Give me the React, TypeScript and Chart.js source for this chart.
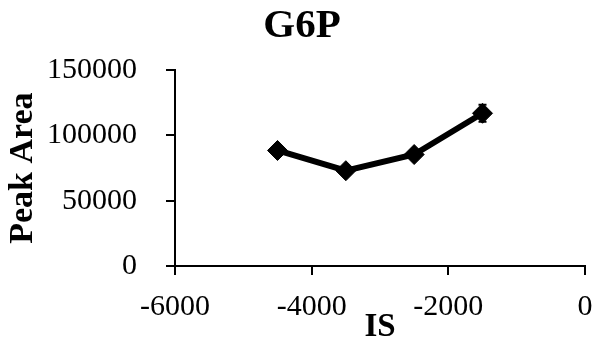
import React, { useEffect, useRef } from "react";
import { Chart, registerables } from "chart.js";

Chart.register(...registerables);

const xValues = [-4500, -3500, -2500, -1500];
const peakArea = [88500, 73000, 85400, 117000];
const errors = [2000, 2000, 2500, 6500];
const xTicks = [-6000, -4000, -2000, 0];
const yTicks = [0, 50000, 100000, 150000];

const errorBarPlugin = {
  id: "errorBars",
  afterDatasetsDraw(chart: any) {
    const { ctx, scales } = chart;
    const xs = scales.x;
    const ys = scales.y;
    ctx.save();
    ctx.strokeStyle = "#000";
    ctx.lineWidth = 2;
    xValues.forEach((xv, i) => {
      const px = xs.getPixelForValue(xv);
      const top = ys.getPixelForValue(peakArea[i] + errors[i]);
      const bot = ys.getPixelForValue(peakArea[i] - errors[i]);
      ctx.beginPath();
      ctx.moveTo(px, top);
      ctx.lineTo(px, bot);
      ctx.moveTo(px - 4, top);
      ctx.lineTo(px + 4, top);
      ctx.moveTo(px - 4, bot);
      ctx.lineTo(px + 4, bot);
      ctx.stroke();
    });
    ctx.restore();
  },
};

export default function App() {
  const ref = useRef<HTMLCanvasElement | null>(null);
  useEffect(() => {
    if (!ref.current) return;
    const serif = "'Liberation Serif', 'Times New Roman', serif";
    const chart = new Chart(ref.current, {
      type: "line",
      data: {
        datasets: [
          {
            data: xValues.map((x, i) => ({ x, y: peakArea[i] })),
            borderColor: "#000",
            backgroundColor: "#000",
            borderWidth: 6,
            pointStyle: "rectRot",
            pointRadius: 10,
            pointBorderWidth: 1,
            pointBackgroundColor: "#000",
            pointBorderColor: "#000",
            tension: 0,
          },
        ],
      },
      options: {
        animation: false,
        responsive: false,
        maintainAspectRatio: false,
        layout: { padding: { left: 8, right: 0, top: 0, bottom: 0 } },
        plugins: {
          legend: { display: false },
          tooltip: { enabled: false },
          title: {
            display: true,
            text: "G6P",
            color: "#000",
            font: { family: serif, size: 41, weight: "bold" },
            padding: { top: 2, bottom: 19 },
          },
        },
        scales: {
          x: {
            type: "linear",
            min: -6000,
            max: 0,
            afterBuildTicks: (scale: any) => {
              scale.ticks = xTicks.map((v) => ({ value: v }));
            },
            afterFit: (scale: any) => {
              scale.height = 79;
              scale.paddingLeft = 0;
              scale.paddingRight = 11;
            },
            ticks: {
              color: "#000",
              font: { family: serif, size: 30 },
              padding: 14,
              maxRotation: 0,
              callback: (v: any) => String(v),
            },
            grid: {
              drawOnChartArea: false,
              drawTicks: true,
              tickLength: 9,
              color: "#000",
              lineWidth: 2,
            },
            border: { color: "#000", width: 2 },
            title: {
              display: true,
              text: "IS",
              color: "#000",
              font: { family: serif, size: 33, weight: "bold" },
              padding: { top: 0, bottom: -2 },
            },
          },
          y: {
            type: "linear",
            min: 0,
            max: 150000,
            afterBuildTicks: (scale: any) => {
              scale.ticks = yTicks.map((v) => ({ value: v }));
            },
            afterFit: (scale: any) => {
              scale.width = 167;
            },
            ticks: {
              color: "#000",
              font: { family: serif, size: 30 },
              padding: 29,
              callback: (v: any) => String(v),
            },
            grid: {
              drawOnChartArea: false,
              drawTicks: true,
              tickLength: 9,
              color: "#000",
              lineWidth: 2,
            },
            border: { color: "#000", width: 2 },
            title: {
              display: true,
              text: "Peak Area",
              color: "#000",
              font: { family: serif, size: 34, weight: "bold" },
              padding: { top: -5, bottom: 0 },
            },
          },
        },
      },
      plugins: [errorBarPlugin],
    } as any);
    return () => chart.destroy();
  }, []);
  return (
    <div style={{ position: "fixed", left: 0, top: 0, width: 596, height: 345, background: "#fff" }}>
      <canvas ref={ref} width={596} height={345} style={{ width: 596, height: 345, display: "block" }} />
    </div>
  );
}
